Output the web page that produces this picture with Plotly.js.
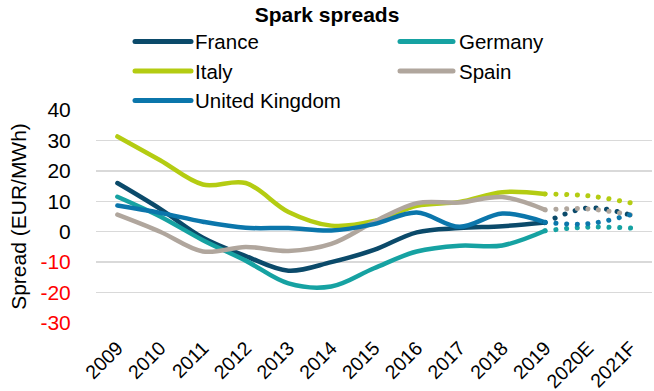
<!DOCTYPE html>
<html><head><meta charset="utf-8">
<script src="https://cdn.plot.ly/plotly-3.0.1.min.js"></script>
<style>
html,body{margin:0;padding:0;background:#fff;}
#chart{width:654px;height:391px;}
.js-line{stroke-linecap:round !important;}
.shapelayer path{stroke-linecap:round !important;}
</style></head><body><div id="chart"></div>
<script>
// ---- data ----
const years = ['2009','2010','2011','2012','2013','2014','2015','2016','2017','2018','2019'];
const forecastYears = ['2019','2020E','2021F'];
const allCategories = ['2009','2010','2011','2012','2013','2014','2015','2016','2017','2018','2019','2020E','2021F'];
const countries = ['France','Germany','Italy','Spain','United Kingdom'];
const colors = ['#0b4a6a','#16a2a2','#b4cc12','#b0a69d','#0b76ab'];

const france  = [16, 7.5, -2, -8, -12.8, -10, -6, -0.2, 1.2, 1.8, 3];
const germany = [11.5, 5, -2.8, -9.5, -17, -18, -12, -6.5, -4.6, -4.5, 0.3];
const italy   = [31.3, 23.5, 15.5, 16, 6.5, 2, 3.5, 8.5, 9.8, 13, 12.4];
const spain   = [5.6, 0, -6.5, -5, -6.3, -4, 3.2, 9.4, 9.6, 11.4, 7.2];
const uk      = [8.6, 6.2, 3.3, 1.3, 1.2, 0.4, 2.5, 6.3, 1.6, 6, 3.1];

const franceForecast  = [3, 7.8, 5.5];
const germanyForecast = [0.3, 1.5, 1.2];
const italyForecast   = [12.4, 11.8, 9.5];
const spainForecast   = [7.2, 7.5, 5.5];
const ukForecast      = [3.1, 2.6, 5.6];

const yTickVals = [-30,-20,-10,0,10,20,30,40];

// ---- build ----
const actuals = [france, germany, italy, spain, uk];
const forecasts = [franceForecast, germanyForecast, italyForecast, spainForecast, ukForecast];
const traces = [];
countries.forEach((c,i)=>{
  traces.push({x: years, y: actuals[i], type:'scatter', mode:'lines', name:c,
    line:{color:colors[i], width:4.5, shape:'spline', smoothing:1}, showlegend:false, hoverinfo:'x+y'});
});
countries.forEach((c,i)=>{
  traces.push({x: forecastYears, y: forecasts[i], type:'scatter', mode:'lines', name:c+' forecast',
    line:{color:colors[i], width:5, shape:'spline', smoothing:1, dash:'0.1px,10.6px'}, showlegend:false, hoverinfo:'x+y'});
});

// plot area in pixels
const L=96, R=652, T=110, B=323;
const px = v => (v - L)/(R - L);
const py = v => (B - v)/(B - T);
const legendCols = [[135,191,195],[400,453,459]];
const legendRows = [41.5, 71, 100.5];
const shapes = [], annotations = [];
countries.forEach((c,i)=>{
  const col = legendCols[i%2], row = legendRows[Math.floor(i/2)];
  shapes.push({type:'line', xref:'paper', yref:'paper', x0:px(col[0]), x1:px(col[1]), y0:py(row), y1:py(row),
    line:{color:colors[i], width:5}});
  annotations.push({xref:'paper', yref:'paper', x:px(col[2]-2), y:py(row), xanchor:'left', yanchor:'middle',
    text:c, showarrow:false, font:{family:'Liberation Sans, Arial, sans-serif', size:20.5, color:'#000'}});
});

const yTickText = yTickVals.map(v => v < 0 ? '<span style="color:#ff0000">'+v+'</span>' : String(v));

const layout = {
  width:654, height:391,
  margin:{l:L, r:654-R, t:T, b:391-B, pad:0},
  paper_bgcolor:'#fff', plot_bgcolor:'#fff',
  font:{family:'Liberation Sans, Arial, sans-serif', size:21, color:'#000'},
  title:{text:'<b>Spark spreads</b>', font:{family:'Liberation Sans, Arial, sans-serif', size:21, color:'#000'},
    x:0.5, xanchor:'center', xref:'container', y:1-15/391, yref:'container', yanchor:'middle'},
  showlegend:false,
  xaxis:{type:'category', categoryorder:'array', categoryarray:allCategories, range:[-0.5,12.5],
    showgrid:false, zeroline:false, showline:false, ticks:'outside', ticklen:5, tickcolor:'rgba(0,0,0,0)',
    tickangle:-45, tickfont:{size:19.5, color:'#000'}},
  yaxis:{range:[-30,40], tickvals:yTickVals, ticktext:yTickText, showgrid:true, gridcolor:'#d9d9d9', gridwidth:1.5,
    zeroline:false, showline:false, ticks:'outside', ticklen:20, tickcolor:'rgba(0,0,0,0)',
    tickfont:{size:21, color:'#000'},
    title:{text:'Spread (EUR/MWh)', font:{size:21, color:'#000'}, standoff:8}},
  shapes: shapes,
  annotations: annotations
};

Plotly.newPlot('chart', traces, layout, {staticPlot:true, displayModeBar:false});
</script></body></html>
